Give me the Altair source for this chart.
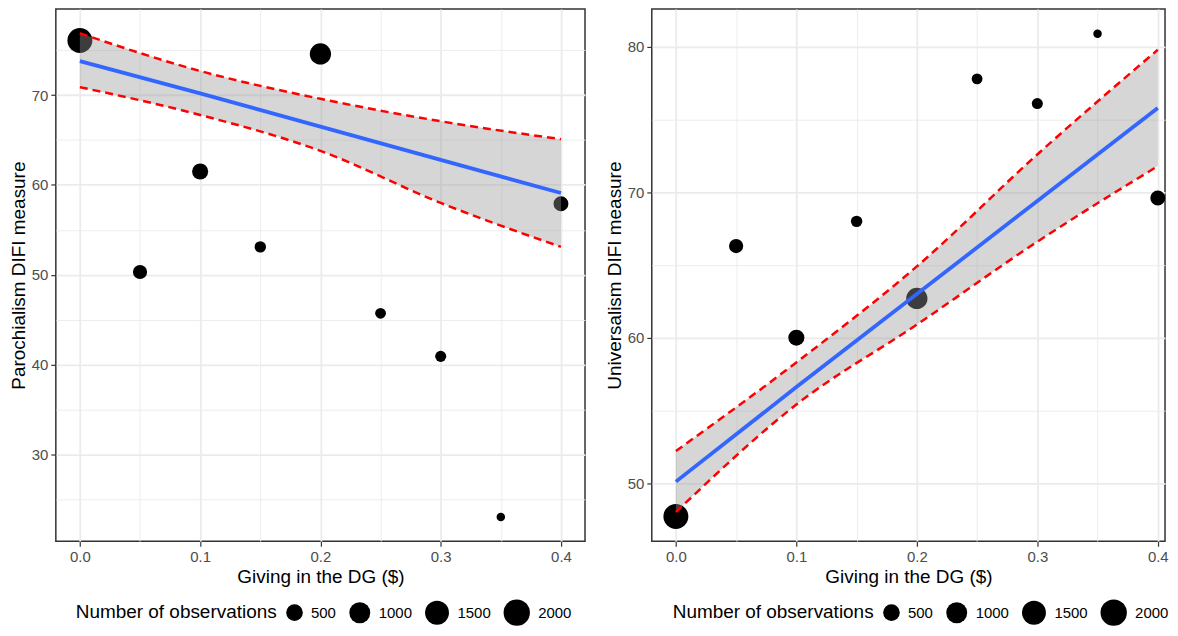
import altair as alt
import pandas as pd

# ---- data ----
giving = [0.0, 0.05, 0.1, 0.15, 0.2, 0.25, 0.3, 0.35, 0.4]
n_obs = [1700, 310, 450, 160, 1050, 135, 145, 65, 360]
parochialism = [76.1, 50.3, 61.5, 53.1, 74.6, 45.7, 40.9, 23.0, 57.9]
universalism = [47.7, 66.3, 60.0, 68.0, 62.7, 77.8, 76.1, 80.9, 69.6]

fit_x = [0.0, 0.1, 0.2, 0.3, 0.4]
paro_fit = [73.8, 70.2, 66.5, 62.8, 59.1]
paro_lo = [70.9, 67.8, 63.8, 58.0, 53.1]
paro_hi = [76.9, 72.7, 69.6, 67.1, 65.1]
univ_fit = [50.1, 56.6, 63.0, 69.4, 75.8]
univ_lo = [48.0, 55.4, 60.9, 66.6, 71.8]
univ_hi = [52.2, 58.3, 64.9, 72.6, 79.8]

x_ticks = [0.0, 0.05, 0.1, 0.15, 0.2, 0.25, 0.3, 0.35, 0.4]
paro_ticks = [25, 30, 35, 40, 45, 50, 55, 60, 65, 70, 75]
univ_ticks = [45, 50, 55, 60, 65, 70, 75, 80]
legend_values = [500, 1000, 1500, 2000]

FONT = "Liberation Sans"
X_TITLE = "Giving in the DG ($)"
LEGEND_TITLE = "Number of observations"

x_minor = "abs(datum.value*10 - round(datum.value*10)) > 0.01"
y_minor = "datum.value % 10 != 0"


def make_x_axis():
    return alt.Axis(
        values=x_ticks,
        labelExpr=f"({x_minor}) ? '' : format(datum.value, '.1f')",
        tickOpacity={"condition": {"test": x_minor, "value": 0}, "value": 1},
        gridWidth={"condition": {"test": x_minor, "value": 0.9}, "value": 1.8},
        title=X_TITLE,
    )


def make_y_axis(ticks, title):
    return alt.Axis(
        values=ticks,
        labelExpr=f"({y_minor}) ? '' : format(datum.value, 'd')",
        tickOpacity={"condition": {"test": y_minor, "value": 0}, "value": 1},
        gridWidth={"condition": {"test": y_minor, "value": 0.9}, "value": 1.8},
        title=title,
    )


def panel(yvals, fit, lo, hi, ticks, ytitle, ydom, xdom, width, legx):
    pts = pd.DataFrame({"x": giving, "y": yvals, "n": n_obs})
    band = pd.DataFrame({"x": fit_x, "fit": fit, "lo": lo, "hi": hi})
    xs = alt.Scale(domain=xdom, nice=False, zero=False)
    ys = alt.Scale(domain=ydom, nice=False, zero=False)

    def X():
        return alt.X("x:Q", scale=xs, axis=make_x_axis())

    def Y(field):
        return alt.Y(f"{field}:Q", scale=ys, axis=make_y_axis(ticks, ytitle))

    points = alt.Chart(pts).mark_circle(color="black", opacity=1).encode(
        x=X(),
        y=Y("y"),
        size=alt.Size(
            "n:Q",
            scale=alt.Scale(type="pow", exponent=0.66, domain=[0, 2000], range=[0, 697]),
            legend=alt.Legend(
                title=LEGEND_TITLE,
                orient="none",
                legendX=legx,
                legendY=592,
                direction="horizontal",
                titleOrient="left",
                values=legend_values,
                format="d",
                symbolFillColor="black",
                symbolStrokeColor="black",
                symbolStrokeWidth=0,
                symbolOpacity=1,
                symbolType="circle",
                labelFontSize=15,
                labelColor="black",
                labelFont=FONT,
                titleFont=FONT,
                titleFontSize=19,
                titleFontWeight="normal",
                titleColor="black",
                titleLimit=500,
                titlePadding=9,
                labelOffset=8,
                columnPadding=12,
                titleBaseline="middle",
            ),
        ),
    )
    ribbon = alt.Chart(band).mark_area(color="#999999", opacity=0.4, interpolate="monotone").encode(
        x=X(), y=Y("lo"), y2="hi:Q"
    )
    upper = alt.Chart(band).mark_line(
        color="red", strokeDash=[8, 5], strokeWidth=2.5, interpolate="monotone"
    ).encode(x=X(), y=Y("hi"))
    lower = alt.Chart(band).mark_line(
        color="red", strokeDash=[8, 5], strokeWidth=2.5, interpolate="monotone"
    ).encode(x=X(), y=Y("lo"))
    line = alt.Chart(band).mark_line(color="#3366FF", strokeWidth=3.8).encode(
        x=X(), y=Y("fit")
    )
    return alt.layer(points, ribbon, upper, lower, line).properties(width=width, height=534)


left = panel(parochialism, paro_fit, paro_lo, paro_hi, paro_ticks,
             "Parochialism DIFI measure", [20.3, 79.6], [-0.02, 0.42], 531, 20)
right = panel(universalism, univ_fit, univ_lo, univ_hi, univ_ticks,
              "Universalism DIFI measure", [46.0, 82.6], [-0.02, 0.406], 515, 21)

chart = (
    alt.hconcat(left, right, spacing=18)
    .resolve_scale(size="independent")
    .resolve_legend(size="independent")
    .properties(padding={"left": 0, "top": -1, "right": 0, "bottom": 0}, background="white")
    .configure_view(stroke="#333333", strokeWidth=1.5)
    .configure_axis(
        labelFont=FONT,
        titleFont=FONT,
        labelFontSize=15,
        titleFontSize=19,
        labelColor="#4d4d4d",
        titleColor="black",
        titleFontWeight="normal",
        tickColor="#333333",
        tickSize=5,
        tickWidth=1.2,
        domain=False,
        gridColor="#ebebeb",
        labelPadding=3,
        titlePadding=3,
    )
)

chart.save("out.html", embed_options={"renderer": "svg", "actions": False})
